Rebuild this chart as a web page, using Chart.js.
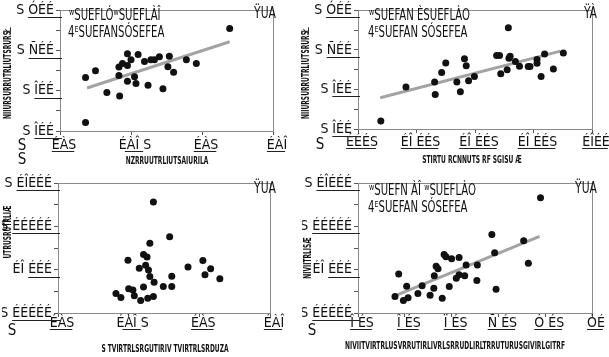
<!DOCTYPE html>
<html><head><meta charset="utf-8">
<script src="https://cdn.jsdelivr.net/npm/chart.js@4"></script>
<style>
html,body{margin:0;padding:0;background:#fff;width:609px;height:357px;overflow:hidden}
#wrap{position:relative;width:609px;height:357px}
canvas{position:absolute;left:0;top:0}
</style></head><body>
<div id="wrap">
<canvas id="cA" width="609" height="357"></canvas>
<canvas id="cB" width="609" height="357"></canvas>
<canvas id="cC" width="609" height="357"></canvas>
<canvas id="cD" width="609" height="357"></canvas>
</div>
<script>
// ---- data ----
const xA = [2.39,0.36,0.50,0.66,0.83,0.83,0.84,0.88,0.95,0.95,0.95,1.00,1.05,1.07,1.10,1.19,1.24,1.28,1.33,1.40,1.45,1.52,1.54,1.60,1.78,1.92,0.36];
const yA = [2.55,1.33,1.50,0.96,1.59,1.38,0.87,1.68,1.92,1.63,1.24,1.77,1.35,1.18,1.90,1.73,1.14,1.77,1.77,1.85,1.05,1.60,1.86,1.46,1.77,1.68,0.21];
const fitAx = [0.38,2.39], fitAy = [1.07,2.22];

const xB = [0.39,0.82,1.31,1.32,1.43,1.50,1.69,1.75,1.82,1.85,1.89,1.99,2.37,2.42,2.44,2.55,2.57,2.58,2.60,2.69,2.76,2.91,2.94,3.06,3.06,3.13,3.19,3.34,3.51];
const yB = [0.20,1.06,1.19,0.87,1.43,1.67,1.19,0.94,1.78,1.60,1.22,1.33,1.86,1.86,1.40,1.50,2.56,1.79,1.84,1.71,1.59,1.58,1.58,1.76,1.66,1.33,1.90,1.52,1.92];
const fitBx = [0.38,3.46], fitBy = [0.79,1.97];

const xC = [1.35,1.58,1.30,1.21,1.26,0.99,1.24,1.15,1.28,1.30,1.36,1.61,1.61,1.49,1.21,1.00,1.06,0.82,0.89,1.08,1.17,1.27,1.35,1.84,2.05,2.16,2.08,2.29];
const yC = [2.56,1.76,1.61,1.35,1.29,1.22,1.10,1.03,0.99,0.84,0.71,0.85,0.61,0.61,0.60,0.56,0.53,0.45,0.36,0.40,0.29,0.34,0.38,1.06,1.21,1.02,0.88,0.79];

const xD = [3.90,2.86,3.54,2.92,3.64,2.95,1.84,1.88,2.00,2.16,1.67,1.71,2.31,2.55,0.87,1.63,2.16,2.28,2.10,2.54,1.04,1.37,1.95,1.62,1.28,1.54,0.79,1.07,0.97,1.80];
const yD = [2.66,1.81,1.67,1.39,1.15,0.55,1.35,1.30,1.25,1.28,1.08,1.02,1.11,1.11,0.90,0.86,0.88,0.86,0.80,0.75,0.62,0.63,0.61,0.57,0.45,0.41,0.38,0.35,0.29,0.34];
const fitDx = [0.80,3.88], fitDy = [0.40,1.77];

const yTicksAB = ["S ÎÉÉ","S ÎÉÉ","S ÑÉÉ","S ÓÉÉ"];
const yTicksCD = ["S ÉÉÉÉÉ","ÉÎ ÉÉÉ","S ÉÉÉÉÉ","S ÉÎÉÉÉ"];
const xTicksA = ["ÉÀS","ÉÀÎ S","ÉÀS","ÉÀÎ"];
const xTicksB = ["ÉÉÉS","ÉÎ ÉÉS","ÉÎ ÉÉS","ÉÎ ÉÉS","ÉÎÉÉ"];
const xTicksC = ["ÉÀS","ÉÀÎ S","ÉÀS","ÉÀÎ"];
const xTicksD = ["Î ÉS","Î ÉS","Ï ÉS","Ñ ÉS","Ó ÉS","ÓÉ"];

const FONT = "'Liberation Sans Narrow','DejaVu Sans Condensed','Liberation Sans',sans-serif";
Chart.defaults.font.family = FONT;
const XFS = 14, YFS = 14, XOFF = 4;

const textPlugin = {
  id: 'txt',
  afterDraw(chart, args, opts) {
    const ctx = chart.ctx, a = chart.chartArea;
    ctx.save();
    ctx.strokeStyle = '#8a8a8a'; ctx.lineWidth = 1;
    ctx.strokeRect(Math.round(a.left)+0.5, Math.round(a.top)+0.5, Math.round(a.right-a.left), Math.round(a.bottom-a.top));
    // underlines of tick labels
    ctx.strokeStyle = '#222';
    const xs = chart.scales.x, ys = chart.scales.y;
    ctx.font = YFS + 'px ' + FONT;
    ys.ticks.forEach(t => {
      if (!Number.isInteger(t.value)) return;
      const lab = opts.yTicks[t.value];
      const w = ctx.measureText(lab.split(' ').pop()).width;
      const py = Math.round(ys.getPixelForValue(t.value) + opts.yUnder) + 0.5;
      ctx.beginPath(); ctx.moveTo(a.left - 6 - w, py); ctx.lineTo(a.left + 2, py); ctx.stroke();
    });
    ctx.font = XFS + 'px ' + FONT;
    xs.ticks.forEach(t => {
      const lab = opts.xTicks[Math.round(t.value)].replace(/ S$/, '');
      const w = ctx.measureText(lab).width;
      const cx = xs.getPixelForValue(t.value) + XOFF;
      const py = Math.round(a.bottom + opts.xUnder) + 0.5;
      ctx.beginPath(); ctx.moveTo(cx - w/2, py); ctx.lineTo(cx + w/2 - 2, py); ctx.stroke();
    });
    ctx.restore();
    (opts.items || []).forEach(it => {
      ctx.save();
      ctx.fillStyle = '#111';
      ctx.font = (it.bold ? 'bold ' : '') + it.size + 'px ' + FONT;
      ctx.textBaseline = 'middle';
      ctx.textAlign = it.align || 'left';
      ctx.translate(it.x, it.y);
      if (it.rot) ctx.rotate(it.rot);
      ctx.scale(it.sx || 1, 1);
      ctx.fillText(it.t, 0, 0);
      ctx.restore();
    });
  }
};

const YW = 56, XH = 40;
function makePanel(id, xs, ys, fx, fy, xMax, xTicks, yTicks, area, xPad, items) {
  const pts = xs.map((x, i) => ({x: x, y: ys[i]}));
  const ds = [{type: 'scatter', data: pts, pointRadius: 3.5, pointBackgroundColor: '#111', pointBorderWidth: 0, order: 1}];
  if (fx) ds.push({type: 'line', data: fx.map((x, i) => ({x: x, y: fy[i]})), borderColor: '#a3a3a3', borderWidth: 3, pointRadius: 0, fill: false, order: 2});
  new Chart(document.getElementById(id), {
    type: 'scatter',
    data: {datasets: ds},
    options: {
      responsive: false, animation: false, events: [],
      layout: {padding: {left: area.l - YW, top: area.t, right: 609 - area.r, bottom: 357 - area.b - XH}},
      plugins: {legend: {display: false}, tooltip: {enabled: false},
                txt: {items: items, xTicks: xTicks, yTicks: yTicks, yUnder: 7, xUnder: xPad + 18}},
      scales: {
        x: {type: 'linear', min: 0, max: xMax,
            afterFit: s => { s.height = XH; },
            grid: {drawOnChartArea: false, tickLength: 4, color: '#555'},
            border: {color: '#8a8a8a'},
            ticks: {stepSize: 1, autoSkip: false, maxRotation: 0, padding: xPad, labelOffset: XOFF, color: '#111', font: {size: XFS},
                    callback: v => xTicks[Math.round(v)] }},
        y: {type: 'linear', min: 0, max: 3,
            afterFit: s => { s.width = YW; },
            grid: {drawOnChartArea: false, tickLength: 4, color: '#555'},
            border: {color: '#8a8a8a'},
            ticks: {stepSize: 0.5, autoSkip: false, padding: 2, color: '#111', font: {size: YFS},
                    callback: v => Number.isInteger(v) ? yTicks[v] : '' }}
      }
    },
    plugins: [textPlugin]
  });
}

const R = -Math.PI/2;
makePanel('cA', xA, yA, fitAx, fitAy, 3, xTicksA, yTicksAB, {l: 60, t: 8, r: 273, b: 131}, 2, [
  {t: 'ʷSUEFLÓʷSUEFLÀÎ', x: 69, y: 16, size: 15, sx: 0.75},
  {t: '4ᴱSUEFANSÓSEFEA', x: 68, y: 33, size: 15, sx: 0.75},
  {t: 'ŸUA', x: 276, y: 14, size: 15, align: 'right', sx: 0.8},
  {t: 'NZRRUUTRLIUTSAIURILA', x: 167, y: 161, size: 11, align: 'center', bold: true, sx: 0.6},
  {t: 'NIIURSURRUTRLIUTSRURS', x: 8, y: 75, size: 11, align: 'center', bold: true, rot: R, sx: 0.6},
  {t: 'Ł', x: 8, y: 30, size: 11, align: 'center', rot: R},
  {t: 'S', x: 22, y: 146, size: 15, align: 'center'},
  {t: 'S', x: 22, y: 160, size: 15, align: 'center'}
]);
makePanel('cB', xB, yB, fitBx, fitBy, 4, xTicksB, yTicksAB, {l: 358, t: 7, r: 592, b: 129}, 1, [
  {t: 'ʷSUEFAN ÈSUEFLÀO', x: 369, y: 16, size: 15, sx: 0.75},
  {t: '4ᴱSUEFAN SÓSEFEA', x: 368, y: 33, size: 15, sx: 0.75},
  {t: 'ŸÀ', x: 597, y: 14, size: 15, align: 'right', sx: 0.8},
  {t: 'STIRTU RCNNUTS RF SGISU Æ', x: 472, y: 160, size: 11, align: 'center', bold: true, sx: 0.6},
  {t: 'NIIURSURRUTRLIUTSRURS', x: 306, y: 75, size: 11, align: 'center', bold: true, rot: R, sx: 0.6},
  {t: 'Ł', x: 306, y: 30, size: 11, align: 'center', rot: R},
  {t: 'S', x: 320, y: 145, size: 15, align: 'center'}
]);
makePanel('cC', xC, yC, null, null, 3, xTicksC, yTicksCD, {l: 58, t: 183, r: 270, b: 313}, -2, [
  {t: 'ŸUA', x: 276, y: 189, size: 15, align: 'right', sx: 0.8},
  {t: 'S TVIRTRLSRGUTIRIV TVIRTRLSRDUZA', x: 165, y: 349, size: 11, align: 'center', bold: true, sx: 0.6},
  {t: 'UTRUSRUTRLIÆ', x: 8, y: 232, size: 11, align: 'center', bold: true, rot: R, sx: 0.6},
  {t: 'S', x: 12, y: 331, size: 15, align: 'center'}
]);
makePanel('cD', xD, yD, fitDx, fitDy, 5, xTicksD, yTicksCD, {l: 358, t: 183, r: 592, b: 313}, -2, [
  {t: 'ʷSUEFN ÀÎ ʷSUEFLÀO', x: 369, y: 191, size: 15, sx: 0.75},
  {t: '4ᴱSUEFAN SÓSEFEA', x: 368, y: 208, size: 15, sx: 0.75},
  {t: 'ŸUA', x: 597, y: 189, size: 15, align: 'right', sx: 0.8},
  {t: 'NIVIITVIRTRLUSVRRUTIRLIVRLSRRUDLIRLTRRUTURUSGIVIRLGITRF', x: 455, y: 346, size: 11, align: 'center', bold: true, sx: 0.6},
  {t: 'NIVIITRLISÆ', x: 308, y: 258, size: 11, align: 'center', bold: true, rot: R, sx: 0.6},
  {t: 'S', x: 312, y: 331, size: 15, align: 'center'}
]);
</script>
</body></html>
